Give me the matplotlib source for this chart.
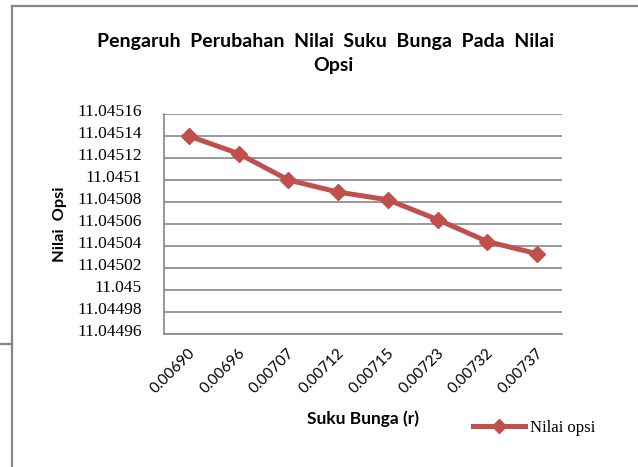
import matplotlib
matplotlib.use('Agg')
import matplotlib.pyplot as plt
from matplotlib.lines import Line2D
from matplotlib import transforms


suku_bunga = ['0.00690', '0.00696', '0.00707', '0.00712', '0.00715', '0.00723', '0.00732', '0.00737']
nilai_opsi = [11.04514, 11.045124, 11.045100, 11.045089, 11.045082, 11.045064, 11.045044, 11.045033]

ytick_values = [11.04496, 11.04498, 11.045, 11.04502, 11.04504, 11.04506,
                11.04508, 11.0451, 11.04512, 11.04514, 11.04516]
ytick_labels = ['11.04496', '11.04498', '11.045', '11.04502', '11.04504', '11.04506',
                '11.04508', '11.0451', '11.04512', '11.04514', '11.04516']

W, H = 638, 467
red = '#C0504D'
gray = '#878787'
sans = 'Lato'
serif = 'Liberation Serif'


def px(x, y):
    # pixel coords (from top-left) to figure fraction
    return x / W, 1 - y / H


fig = plt.figure(figsize=(W / 100, H / 100), dpi=100)
fig.patch.set_facecolor('white')

# outer chart frame, as in the source document
fig.add_artist(Line2D([12 / W, 12 / W], [0, 1 - 6 / H], color=gray, lw=1.6))
fig.add_artist(Line2D([12 / W, 1], [1 - 6 / H, 1 - 6 / H], color=gray, lw=1.6))
fig.add_artist(Line2D([0, 12 / W], [1 - 344 / H, 1 - 344 / H], color=gray, lw=1.6))

left, top, right, bottom = 164, 114, 562, 334
ax = fig.add_axes([left / W, 1 - bottom / H, (right - left) / W, (bottom - top) / H])

x = list(range(len(suku_bunga)))
ax.plot(x, nilai_opsi, color=red, lw=3.6, marker='D', markersize=8.5,
        markeredgecolor=red, markerfacecolor=red, label='Nilai opsi', zorder=3)

ax.set_xlim(-0.5, len(suku_bunga) - 0.5)
ax.set_ylim(ytick_values[0], ytick_values[-1])

ax.set_yticks(ytick_values)
ax.set_yticklabels(ytick_labels, fontfamily=serif, fontsize=12.5)
ax.set_xticks(x)
ax.set_xticklabels(suku_bunga, fontfamily=sans, fontsize=11, rotation=45,
                   ha='right', va='center', rotation_mode='anchor')
ax.tick_params(axis='both', length=0)
ax.tick_params(axis='y', pad=16)
ax.tick_params(axis='x', pad=12)

# shift labels a bit like Excel does
off_y = transforms.ScaledTranslation(0, 3 / 72, fig.dpi_scale_trans)
for lab in ax.get_yticklabels():
    lab.set_transform(lab.get_transform() + off_y)
off_x = transforms.ScaledTranslation(4 / 100, 0, fig.dpi_scale_trans)
for lab in ax.get_xticklabels():
    lab.set_transform(lab.get_transform() + off_x)

ax.grid(axis='y', color=gray, lw=1.2)
ax.set_axisbelow(True)
for s in ['top', 'right']:
    ax.spines[s].set_visible(False)
for s in ['left', 'bottom']:
    ax.spines[s].set_color(gray)
    ax.spines[s].set_linewidth(1.2)

fig.text(*px(326, 41), 'Pengaruh  Perubahan  Nilai  Suku  Bunga  Pada  Nilai',
         ha='center', va='center', fontfamily=sans, fontweight='bold', fontsize=14)
fig.text(*px(333, 66), 'Opsi', ha='center', va='center',
         fontfamily=sans, fontweight='bold', fontsize=14)

fig.text(*px(60, 224), 'Nilai  Opsi', rotation=90, ha='center', va='center',
         fontfamily=sans, fontweight='bold', fontsize=11.8)
fig.text(*px(363, 419), 'Suku Bunga (r)', ha='center', va='center',
         fontfamily=sans, fontweight='bold', fontsize=12.5)

leg = ax.legend(loc='center left', bbox_to_anchor=px(473, 428), bbox_transform=fig.transFigure,
                frameon=False, prop={'family': serif, 'size': 12}, handlelength=3.1,
                handletextpad=0.3, borderpad=0, borderaxespad=0, markerscale=0.8)

fig.savefig('out.png', dpi=100)
